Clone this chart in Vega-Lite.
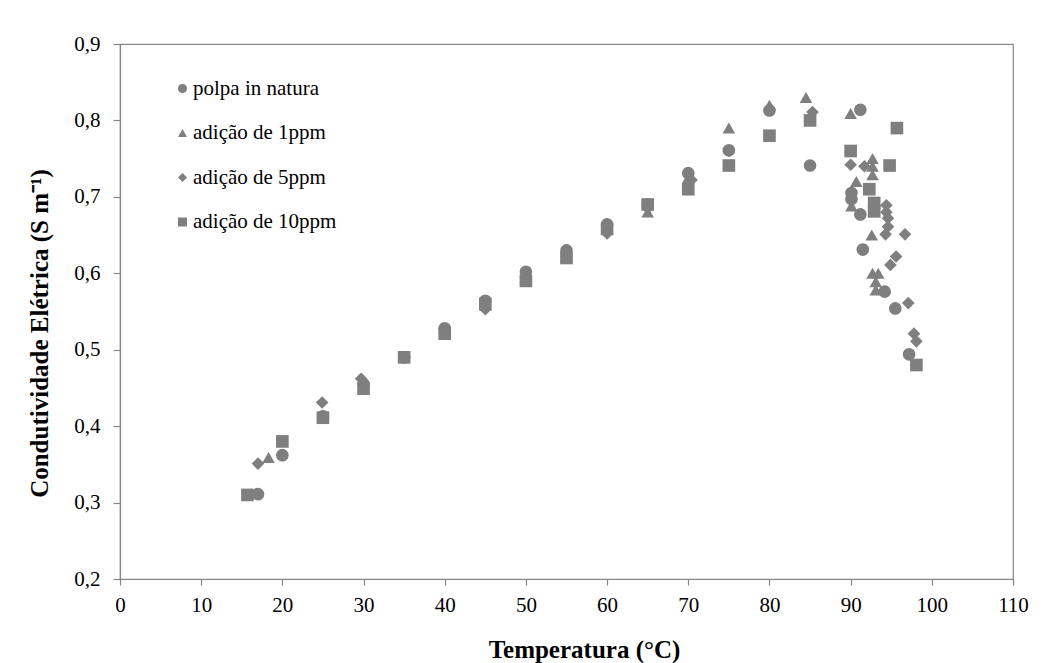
{
  "$schema": "https://vega.github.io/schema/vega-lite/v6.json",
  "autosize": "none",
  "width": 893,
  "height": 535,
  "padding": {"left": 120, "top": 44, "right": 40, "bottom": 84},
  "background": "white",
  "config": {
    "view": {"stroke": "#898989", "strokeWidth": 1.2},
    "font": "Liberation Serif",
    "axis": {"labelFont": "Liberation Serif", "titleFont": "Liberation Serif"},
    "legend": {"labelFont": "Liberation Serif"}
  },
  "data": {
    "values": [
      {"serie": "polpa in natura", "t": 17, "c": 0.311},
      {"serie": "polpa in natura", "t": 20, "c": 0.362},
      {"serie": "polpa in natura", "t": 25, "c": 0.413},
      {"serie": "polpa in natura", "t": 30, "c": 0.455},
      {"serie": "polpa in natura", "t": 35, "c": 0.49},
      {"serie": "polpa in natura", "t": 40, "c": 0.528},
      {"serie": "polpa in natura", "t": 45, "c": 0.564},
      {"serie": "polpa in natura", "t": 50, "c": 0.602},
      {"serie": "polpa in natura", "t": 55, "c": 0.63},
      {"serie": "polpa in natura", "t": 60, "c": 0.664},
      {"serie": "polpa in natura", "t": 65, "c": 0.69},
      {"serie": "polpa in natura", "t": 70, "c": 0.731},
      {"serie": "polpa in natura", "t": 75, "c": 0.761},
      {"serie": "polpa in natura", "t": 80, "c": 0.813},
      {"serie": "polpa in natura", "t": 85, "c": 0.741},
      {"serie": "polpa in natura", "t": 91.2, "c": 0.814},
      {"serie": "polpa in natura", "t": 90.1, "c": 0.705},
      {"serie": "polpa in natura", "t": 90.1, "c": 0.697},
      {"serie": "polpa in natura", "t": 91.2, "c": 0.677},
      {"serie": "polpa in natura", "t": 91.5, "c": 0.631},
      {"serie": "polpa in natura", "t": 94.2, "c": 0.576},
      {"serie": "polpa in natura", "t": 95.5, "c": 0.554},
      {"serie": "polpa in natura", "t": 97.2, "c": 0.494},
      {"serie": "adição de 1ppm", "t": 18.3, "c": 0.359},
      {"serie": "adição de 1ppm", "t": 25, "c": 0.415},
      {"serie": "adição de 1ppm", "t": 30, "c": 0.46},
      {"serie": "adição de 1ppm", "t": 35, "c": 0.49},
      {"serie": "adição de 1ppm", "t": 40, "c": 0.522},
      {"serie": "adição de 1ppm", "t": 45, "c": 0.558},
      {"serie": "adição de 1ppm", "t": 50, "c": 0.595},
      {"serie": "adição de 1ppm", "t": 55, "c": 0.622},
      {"serie": "adição de 1ppm", "t": 60, "c": 0.658},
      {"serie": "adição de 1ppm", "t": 65, "c": 0.68},
      {"serie": "adição de 1ppm", "t": 70, "c": 0.725},
      {"serie": "adição de 1ppm", "t": 75, "c": 0.79},
      {"serie": "adição de 1ppm", "t": 80, "c": 0.82},
      {"serie": "adição de 1ppm", "t": 84.5, "c": 0.83},
      {"serie": "adição de 1ppm", "t": 90, "c": 0.809},
      {"serie": "adição de 1ppm", "t": 90.7, "c": 0.72},
      {"serie": "adição de 1ppm", "t": 90.1, "c": 0.688},
      {"serie": "adição de 1ppm", "t": 92.7, "c": 0.75},
      {"serie": "adição de 1ppm", "t": 92.7, "c": 0.74},
      {"serie": "adição de 1ppm", "t": 92.7, "c": 0.729},
      {"serie": "adição de 1ppm", "t": 92.6, "c": 0.65},
      {"serie": "adição de 1ppm", "t": 92.7, "c": 0.6},
      {"serie": "adição de 1ppm", "t": 93.4, "c": 0.6},
      {"serie": "adição de 1ppm", "t": 93.1, "c": 0.589},
      {"serie": "adição de 1ppm", "t": 93.1, "c": 0.578},
      {"serie": "adição de 5ppm", "t": 17, "c": 0.351},
      {"serie": "adição de 5ppm", "t": 24.9, "c": 0.431},
      {"serie": "adição de 5ppm", "t": 29.7, "c": 0.462},
      {"serie": "adição de 5ppm", "t": 35, "c": 0.49},
      {"serie": "adição de 5ppm", "t": 40, "c": 0.522},
      {"serie": "adição de 5ppm", "t": 45, "c": 0.553},
      {"serie": "adição de 5ppm", "t": 50, "c": 0.595},
      {"serie": "adição de 5ppm", "t": 55, "c": 0.622},
      {"serie": "adição de 5ppm", "t": 60, "c": 0.652},
      {"serie": "adição de 5ppm", "t": 65, "c": 0.685},
      {"serie": "adição de 5ppm", "t": 70.4, "c": 0.722},
      {"serie": "adição de 5ppm", "t": 75, "c": 0.76},
      {"serie": "adição de 5ppm", "t": 80, "c": 0.815},
      {"serie": "adição de 5ppm", "t": 85.3, "c": 0.811},
      {"serie": "adição de 5ppm", "t": 90, "c": 0.742},
      {"serie": "adição de 5ppm", "t": 91.7, "c": 0.74},
      {"serie": "adição de 5ppm", "t": 94.4, "c": 0.689},
      {"serie": "adição de 5ppm", "t": 94.4, "c": 0.68},
      {"serie": "adição de 5ppm", "t": 94.6, "c": 0.672},
      {"serie": "adição de 5ppm", "t": 94.6, "c": 0.661},
      {"serie": "adição de 5ppm", "t": 94.3, "c": 0.651},
      {"serie": "adição de 5ppm", "t": 96.7, "c": 0.651},
      {"serie": "adição de 5ppm", "t": 95.6, "c": 0.622},
      {"serie": "adição de 5ppm", "t": 94.9, "c": 0.611},
      {"serie": "adição de 5ppm", "t": 97.1, "c": 0.561},
      {"serie": "adição de 5ppm", "t": 97.8, "c": 0.521},
      {"serie": "adição de 5ppm", "t": 98.1, "c": 0.511},
      {"serie": "adição de 10ppm", "t": 15.7, "c": 0.31},
      {"serie": "adição de 10ppm", "t": 20, "c": 0.38},
      {"serie": "adição de 10ppm", "t": 25, "c": 0.411},
      {"serie": "adição de 10ppm", "t": 30, "c": 0.449},
      {"serie": "adição de 10ppm", "t": 35, "c": 0.49},
      {"serie": "adição de 10ppm", "t": 40, "c": 0.521},
      {"serie": "adição de 10ppm", "t": 45, "c": 0.56},
      {"serie": "adição de 10ppm", "t": 50, "c": 0.59},
      {"serie": "adição de 10ppm", "t": 55, "c": 0.62},
      {"serie": "adição de 10ppm", "t": 60, "c": 0.658},
      {"serie": "adição de 10ppm", "t": 65, "c": 0.69},
      {"serie": "adição de 10ppm", "t": 70, "c": 0.71},
      {"serie": "adição de 10ppm", "t": 75, "c": 0.741},
      {"serie": "adição de 10ppm", "t": 80, "c": 0.78},
      {"serie": "adição de 10ppm", "t": 85, "c": 0.8},
      {"serie": "adição de 10ppm", "t": 90, "c": 0.76},
      {"serie": "adição de 10ppm", "t": 95.7, "c": 0.79},
      {"serie": "adição de 10ppm", "t": 94.8, "c": 0.741},
      {"serie": "adição de 10ppm", "t": 92.3, "c": 0.71},
      {"serie": "adição de 10ppm", "t": 92.9, "c": 0.692},
      {"serie": "adição de 10ppm", "t": 92.9, "c": 0.681},
      {"serie": "adição de 10ppm", "t": 98.1, "c": 0.48}
    ]
  },
  "mark": {"type": "point", "filled": true, "opacity": 1, "color": "#7f7f7f", "size": 160},
  "encoding": {
    "x": {
      "field": "t", "type": "quantitative",
      "scale": {"domain": [0, 110], "nice": false, "zero": false},
      "axis": {
        "title": "Temperatura (°C)",
        "values": [0, 10, 20, 30, 40, 50, 60, 70, 80, 90, 100, 110],
        "grid": false,
        "domainColor": "#868686", "domainWidth": 1.2,
        "tickColor": "#868686", "tickSize": 6, "tickWidth": 1.2,
        "labelFont": "Liberation Serif", "labelFontSize": 21, "labelColor": "black",
        "labelPadding": 9, "labelFlush": false, "labelOverlap": false,
        "titleFont": "Liberation Serif", "titleFontSize": 25, "titleFontWeight": "bold", "titleColor": "black",
        "titleX": 464, "titleY": 78, "titleBaseline": "alphabetic", "titleAlign": "center"
      }
    },
    "y": {
      "field": "c", "type": "quantitative",
      "scale": {"domain": [0.2, 0.9], "nice": false, "zero": false},
      "axis": {
        "title": "Condutividade Elétrica (S m⁻¹)",
        "values": [0.2, 0.3, 0.4, 0.5, 0.6, 0.7, 0.8, 0.9],
        "labelExpr": "replace(format(datum.value, '.1f'), '.', ',')",
        "grid": false,
        "domainColor": "#868686", "domainWidth": 1.2,
        "tickColor": "#868686", "tickSize": 7, "tickWidth": 1.2,
        "labelFont": "Liberation Serif", "labelFontSize": 21, "labelColor": "black",
        "labelPadding": 13, "labelFlush": false, "labelOverlap": false,
        "titleFont": "Liberation Serif", "titleFontSize": 25, "titleFontWeight": "bold", "titleColor": "black",
        "titleX": -73, "titleY": 289, "titleBaseline": "alphabetic", "titleAlign": "center", "titleAngle": -90
      }
    },
    "shape": {
      "field": "serie", "type": "nominal",
      "scale": {
        "domain": ["polpa in natura", "adição de 1ppm", "adição de 5ppm", "adição de 10ppm"],
        "range": ["circle", "triangle-up", "diamond", "square"]
      },
      "legend": {
        "title": null,
        "orient": "none",
        "legendX": 52,
        "legendY": 34,
        "padding": 0,
        "symbolSize": 81,
        "symbolFillColor": "#7f7f7f",
        "symbolStrokeWidth": 0,
        "symbolOpacity": 1,
        "labelFont": "Liberation Serif",
        "labelFontSize": 21,
        "labelColor": "black",
        "labelOffset": 0,
        "rowPadding": 22.5,
        "labelLimit": 400
      }
    }
  }
}
